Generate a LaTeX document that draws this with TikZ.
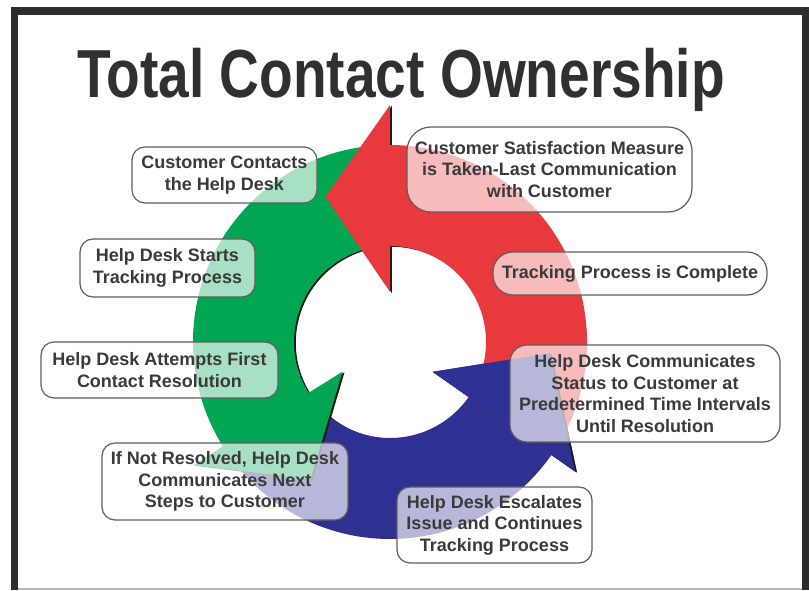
\documentclass[tikz,border=0pt]{standalone}
\usepackage{fontspec}
\setmainfont{Liberation Sans}
\usepackage{graphicx}
\definecolor{ringred}{RGB}{232,58,60}
\definecolor{ringgreen}{RGB}{0,166,81}
\definecolor{ringblue}{RGB}{46,49,146}
\definecolor{framegray}{RGB}{45,45,45}
\definecolor{titlegray}{RGB}{48,48,48}
\definecolor{textgray}{RGB}{58,58,58}
\definecolor{boxline}{RGB}{95,95,95}
\definecolor{shadowcol}{RGB}{25,25,25}
% one curved arrow of the cycle: tail angle, base angle of the head,
% outer and inner head corner radii, tip angle, tip radius
\newcommand\cyclearrow[6]{(#1:197) arc[start angle=#1, end angle=#2, radius=197]
  -- (#2:#3) -- (#5:#6) -- (#2:#4) -- (#2:96)
  arc[start angle=#2, end angle=#1, radius=96] -- cycle}
% the head alone: base angle, outer radius, inner radius, tip angle, tip radius
\newcommand\cyclehead[5]{(#1:#2) -- (#4:#5) -- (#1:#3) -- cycle}
% an arrow with its thin dark edge on the inner rim and around the head
\newcommand\drawcycle[7]{%
  \begin{scope}
    \clip (0,0) circle (195);
    \fill[dropshade] \cyclearrow{#1}{#2}{#3}{#4}{#5}{#6};
  \end{scope}
  \fill[dropshade] \cyclehead{#2}{#3}{#4}{#5}{#6};
  \fill[#7] \cyclearrow{#1}{#2}{#3}{#4}{#5}{#6};}
\tikzset{
  lbl/.style={draw=boxline, line width=1.2pt, fill=white, fill opacity=0.66,
    text opacity=1, text=textgray, align=center, inner sep=0pt,
    rounded corners=13pt, font=\fontsize{18}{21.5}\selectfont\bfseries},
  dropshade/.style={fill=shadowcol, xshift=1.8pt, yshift=-0.8pt}
}
\begin{document}
\begin{tikzpicture}[x=1pt,y=1pt]
\useasboundingbox (0,0) rectangle (809,590);
% page and dark frame
\fill[white] (0,0) rectangle (809,590);
\fill[framegray] (11,0) rectangle (809,583);
\fill[white] (18,2) rectangle (802,575);
\fill[gray!55] (18,0) rectangle (802,2);

% title
\node[anchor=base, text=titlegray, font=\fontsize{68}{68}\selectfont\bfseries]
  (title) at (401,492) {\scalebox{0.81}[1]{Total Contact Ownership}};

% the three arrows of the cycle
\begin{scope}[shift={(390,248)}]
  \drawcycle{212}{325}{226}{52}{356}{160}{ringblue}
  \drawcycle{90}{212}{232}{56}{240}{159}{ringgreen}
  \drawcycle{-35}{90}{237}{50}{114}{159}{ringred}
  % blue head lies over the red tail
  \fill[dropshade] \cyclehead{325}{226}{52}{356}{160};
  \fill[ringblue]  \cyclehead{325}{226}{52}{356}{160};
\end{scope}

% step labels
\node[lbl, minimum width=185pt, minimum height=56pt] (contact) at (224.5,415)
  {Customer Contacts\\the Help Desk};
\node[lbl, minimum width=175pt, minimum height=58pt] (tracking) at (167.5,322)
  {Help Desk Starts\\Tracking Process};
\node[lbl, minimum width=237pt, minimum height=56pt] (first) at (159.5,220)
  {Help Desk Attempts First\\Contact Resolution};
\node[lbl, minimum width=246pt, minimum height=77pt] (nextsteps) at (225,108.5)
  {If Not Resolved, Help Desk\\Communicates Next\\Steps to Customer};
\node[lbl, minimum width=195pt, minimum height=76pt] (escalate) at (494.5,65)
  {Help Desk Escalates\\Issue and Continues\\Tracking Process};
\node[lbl, rounded corners=17pt, minimum width=270pt, minimum height=97pt] (status) at (645,196.5)
  {Help Desk Communicates\\Status to Customer at\\Predetermined Time Intervals\\Until Resolution};
\node[lbl, rounded corners=20pt, minimum width=274pt, minimum height=43pt] (complete) at (630,316.5)
  {Tracking Process is Complete};
\node[lbl, rounded corners=24pt, minimum width=285pt, minimum height=85pt] (measure) at (549.5,420.5)
  {Customer Satisfaction Measure\\is Taken-Last Communication\\with Customer};
\end{tikzpicture}
\end{document}
